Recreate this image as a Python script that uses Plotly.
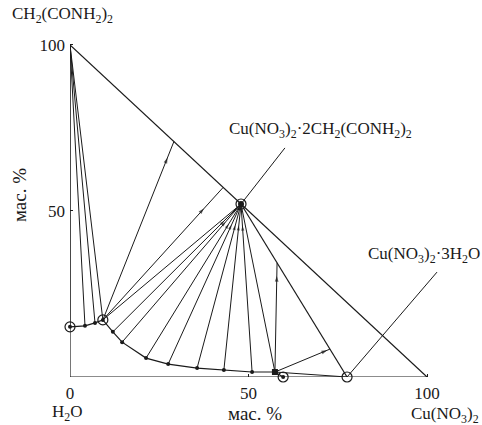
import plotly.graph_objects as go

# состав, мас. %: x = Cu(NO3)2, y = CH2(CONH2)2
curve_x = [0, 4.2, 7.0, 9.2, 12.0, 14.6, 21.3, 27.5, 35.6, 43.1, 51.0, 57.4, 59.7]
curve_y = [15.1, 15.4, 16.3, 17.2, 13.6, 10.5, 5.7, 3.9, 2.7, 2.1, 1.5, 1.5, 0]

vertex_m = (0, 100)
vertex_s = (100, 0)
complex_pt = (47.9, 52.1)
trihydrate_pt = (77.6, 0)

# куда идут лучи от эвтонических точек
ray_e1 = [(29.1, 70.9), (42.9, 57.1)]
ray_e2 = [(58.0, 34.4), (72.8, 8.4)]
leader_complex = (60.2, 69.0)
leader_trihydrate = (102.8, 31.6)

x_ticks = [0, 50, 100]
y_ticks = [50, 100]

INK = "#1a1a1a"
FONT = "Liberation Serif"


def seg(fig, a, b, width=1.2):
    fig.add_trace(go.Scatter(x=[a[0], b[0]], y=[a[1], b[1]], mode="lines",
                             line=dict(color=INK, width=width), hoverinfo="skip",
                             cliponaxis=False))


def arrow(fig, a, b, frac, size=6):
    tip = (a[0] + frac * (b[0] - a[0]), a[1] + frac * (b[1] - a[1]))
    fig.add_trace(go.Scatter(x=[a[0], tip[0]], y=[a[1], tip[1]], mode="markers",
                             marker=dict(symbol="arrow", angleref="previous", size=[0, size],
                                         color=INK, line=dict(width=0)),
                             hoverinfo="skip", cliponaxis=False))


def build_figure():
    fig = go.Figure()
    pts = list(zip(curve_x, curve_y))
    e1 = pts[3]
    e2 = pts[11]

    # стороны треугольника
    seg(fig, (0, 0), vertex_s)
    seg(fig, (0, 0), vertex_m)
    seg(fig, vertex_m, vertex_s)

    # ноды к малонамиду
    for p in pts[:4]:
        seg(fig, vertex_m, p, 1.0)

    # ноды к соединению
    for p in pts[3:12]:
        seg(fig, p, complex_pt, 1.0)
    for p in pts[4:11]:
        arrow(fig, p, complex_pt, 0.87, 5)

    seg(fig, complex_pt, trihydrate_pt)
    seg(fig, e2, trihydrate_pt, 1.0)

    for r in ray_e1:
        seg(fig, e1, r, 1.0)
    arrow(fig, e1, ray_e1[0], 0.91)
    arrow(fig, e1, ray_e1[1], 0.84)
    for r in ray_e2:
        seg(fig, e2, r, 1.0)
    arrow(fig, e2, ray_e2[0], 0.88)
    arrow(fig, e2, ray_e2[1], 0.95)

    seg(fig, complex_pt, leader_complex, 1.0)
    seg(fig, trihydrate_pt, leader_trihydrate, 1.0)

    # кривая растворимости
    fig.add_trace(go.Scatter(x=curve_x, y=curve_y, mode="lines+markers",
                             line=dict(color=INK, width=1.2),
                             marker=dict(size=4, color=INK),
                             hoverinfo="skip", cliponaxis=False))
    fig.add_trace(go.Scatter(x=[e2[0]], y=[e2[1]], mode="markers",
                             marker=dict(size=6, color=INK, symbol="square"),
                             hoverinfo="skip", cliponaxis=False))
    fig.add_trace(go.Scatter(x=[complex_pt[0]], y=[complex_pt[1]], mode="markers",
                             marker=dict(size=6, color=INK),
                             hoverinfo="skip", cliponaxis=False))

    circ_x = [curve_x[0], e1[0], complex_pt[0], curve_x[-1], trihydrate_pt[0]]
    circ_y = [curve_y[0], e1[1], complex_pt[1], curve_y[-1], trihydrate_pt[1]]
    fig.add_trace(go.Scatter(x=circ_x, y=circ_y, mode="markers",
                             marker=dict(size=10, color=INK, symbol="circle-open",
                                         line=dict(color=INK, width=1.2)),
                             hoverinfo="skip", cliponaxis=False))

    font = dict(family=FONT, size=17, color=INK)
    font_unit = dict(family=FONT, size=19, color=INK)
    labels = [
        ("CH<sub>2</sub>(CONH<sub>2</sub>)<sub>2</sub>", -0.019, 0.960, 0, "center", font),
        ("мас. %", -0.121, 0.483, -90, "center", font_unit),
        ("мас. %", 0.449, -0.096, 0, "center", font_unit),
        ("H<sub>2</sub>O", -0.005, -0.096, 0, "center", font),
        ("Cu(NO<sub>3</sub>)<sub>2</sub>", 0.910, -0.101, 0, "center", font),
        ("Cu(NO<sub>3</sub>)<sub>2</sub>·2CH<sub>2</sub>(CONH<sub>2</sub>)<sub>2</sub>", 0.607, 0.655, 0, "center", font),
        ("Cu(NO<sub>3</sub>)<sub>2</sub>·3H<sub>2</sub>O", 1.0, 0.324, 0, "right", font),
    ]
    for text, x, y, ang, anchor, f in labels:
        fig.add_annotation(text=text, x=x, y=y, xref="paper", yref="paper",
                           showarrow=False, textangle=ang, font=f,
                           xanchor=anchor, yanchor="middle")

    fig.update_layout(
        width=482, height=425,
        margin=dict(l=70, r=0, t=0, b=48),
        paper_bgcolor="white", plot_bgcolor="white",
        showlegend=False,
        xaxis=dict(range=[0, 115.4], tickvals=x_ticks, ticks="inside", ticklen=3,
                   tickcolor=INK, showgrid=False, zeroline=False, showline=False,
                   tickfont=font, ticklabelstandoff=4),
        yaxis=dict(range=[0, 113.55], tickvals=y_ticks, ticks="inside", ticklen=3,
                   tickcolor=INK, showgrid=False, zeroline=False, showline=False,
                   tickfont=font, ticklabelstandoff=4),
    )
    return fig


def main():
    fig = build_figure()
    fig.write_html("out.html", config={"displayModeBar": False},
                   post_script="document.body.style.margin = '0';")


if __name__ == "__main__":
    main()
